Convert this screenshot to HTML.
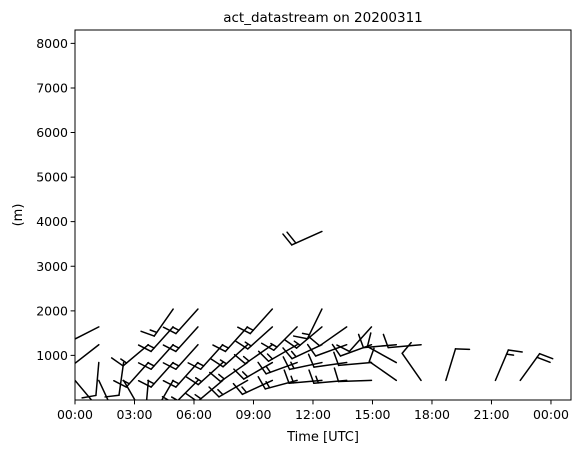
<!DOCTYPE html>
<html><head><meta charset="utf-8"><style>
html,body{margin:0;padding:0;background:#fff;}
svg{display:block;font-family:"DejaVu Sans","Liberation Sans",sans-serif;}
</style></head><body>
<svg id="chart" width="581" height="453" viewBox="0 0 581 453" xmlns="http://www.w3.org/2000/svg">
<defs><clipPath id="plotclip"><rect x="75" y="30" width="496" height="370"/></clipPath></defs>
<rect x="0" y="0" width="581" height="453" fill="#fff"/>
<text x="323" y="22" font-size="13.5" text-anchor="middle">act_datastream on 20200311</text>
<text x="22" y="215" font-size="13" text-anchor="middle" transform="rotate(-90 22 215)">(m)</text>
<text x="323" y="441" font-size="13" text-anchor="middle">Time [UTC]</text>
<g id="barbs" clip-path="url(#plotclip)"></g>
<g id="axes"></g>
</svg>
<script>
// gate heights (m)
const gateHeights = [440, 840, 1240, 1640, 2040, 3780];
// barb observations
const barbTimes = [0, 1.2,1.2,1.2,1.2, 2.45,2.45, 3.7,3.7,3.7, 4.95,4.95,4.95,4.95,4.95, 6.2,6.2,6.2,6.2,6.2, 7.45,7.45,7.45, 8.7,8.7,8.7,8.7, 9.95,9.95,9.95,9.95,9.95, 11.2,11.2,11.2,11.2, 12.45,12.45,12.45,12.45,12.45,12.45, 13.7,13.7,13.7,13.7, 14.95,14.95,14.95,14.95, 16.2,16.2,16.2, 17.45,17.45, 18.7, 21.2, 22.45];
const barbHeights = [440, 1640,1240,840,440, 840,440, 440,840,1240, 440,840,1240,1640,2040, 440,840,1240,1640,2040, 440,840,1240, 440,840,1240,1640, 440,840,1240,1640,2040, 440,840,1240,1640, 440,840,1240,1640,2040,3780, 440,840,1240,1640, 440,840,1240,1640, 440,840,1240, 440,1240, 440, 440, 440];
const barbDirs = [140, 243,232,185,155, 188,150, 185,222,230, 210,222,222,222,215, 225,222,222,222,222, 230,228,222, 240,235,228,222, 245,240,235,228,222, 255,250,240,225, 265,258,245,230,206,246, 265,262,250,235, 268,265,250,222, 305,299,265, 325,265, 17, 23, 36];
const barbSpeeds = [10, 10,10,10,10, 10,10, 10,15,15, 15,15,15,15,15, 15,15,15,15,15, 15,15,15, 15,15,15,15, 15,15,15,15,15, 15,15,15,15, 15,15,15,15,15,20, 15,10,10,10, 10,10,10,10, 10,10,10, 10,10, 10, 15, 20];
const xTickValues = [0,3,6,9,12,15,18,21,24];
const xTickLabels = ["00:00","03:00","06:00","09:00","12:00","15:00","18:00","21:00","00:00"];
const yTickValues = [1000,2000,3000,4000,5000,6000,7000,8000];

const L0=75,T0=30,W=496,H=370,XMAX=25.01,YMAX=8300;
function xs(t){return L0+t/XMAX*W;}
function ys(h){return T0+H-h/YMAX*H;}
const NS="http://www.w3.org/2000/svg";
function line(g,x1,y1,x2,y2,w){const l=document.createElementNS(NS,"line");l.setAttribute("x1",x1);l.setAttribute("y1",y1);l.setAttribute("x2",x2);l.setAttribute("y2",y2);l.setAttribute("stroke","#000");l.setAttribute("stroke-width",w||1.5);l.setAttribute("stroke-linecap","round");g.appendChild(l);return l;}
const bg=document.getElementById("barbs");
const SL=33,TL=14,SP=4.5;
for(let i=0;i<barbTimes.length;i++){
  const g=document.createElementNS(NS,"g");
  
  
  bg.appendChild(g);
  const x=xs(barbTimes[i]),y=ys(barbHeights[i]);
  const a=barbDirs[i]*Math.PI/180;
  const ux=Math.sin(a),uy=-Math.cos(a);
  const ex=x+ux*SL,ey=y+uy*SL;
  line(g,x,y,ex,ey);
  const ta=(barbDirs[i]+75)*Math.PI/180;
  const tx=Math.sin(ta),ty=-Math.cos(ta);
  let s=barbSpeeds[i],pos=0;
  const full=Math.floor(s/10),half=(s%10)>=5?1:0;
  for(let k=0;k<full;k++){const px=ex-ux*pos,py=ey-uy*pos;line(g,px,py,px+tx*TL,py+ty*TL);pos+=SP;}
  if(half){const px=ex-ux*pos,py=ey-uy*pos;line(g,px,py,px+tx*TL/2,py+ty*TL/2);}
}
const ag=document.getElementById("axes");
const fr=document.createElementNS(NS,"rect");
fr.setAttribute("x",L0);fr.setAttribute("y",T0);fr.setAttribute("width",W);fr.setAttribute("height",H);fr.setAttribute("fill","none");fr.setAttribute("stroke","#000");fr.setAttribute("stroke-width","1");


ag.appendChild(fr);
xTickValues.forEach((v,i)=>{
  const x=xs(v);
  const t=line(ag,x,T0+H,x,T0+H+4,1);
  
  
  const tx=document.createElementNS(NS,"text");
  tx.setAttribute("x",x);tx.setAttribute("y",T0+H+19);tx.setAttribute("font-size","12.5");tx.setAttribute("text-anchor","middle");
  tx.textContent=xTickLabels[i];
  
  
  ag.appendChild(tx);
});
yTickValues.forEach(v=>{
  const y=ys(v);
  const t=line(ag,L0-4,y,L0,y,1);
  
  
  const tx=document.createElementNS(NS,"text");
  tx.setAttribute("x",L0-7);tx.setAttribute("y",y+4.5);tx.setAttribute("font-size","12.5");tx.setAttribute("text-anchor","end");
  tx.textContent=String(v);
  
  
  ag.appendChild(tx);
});
</script>
</body></html>
